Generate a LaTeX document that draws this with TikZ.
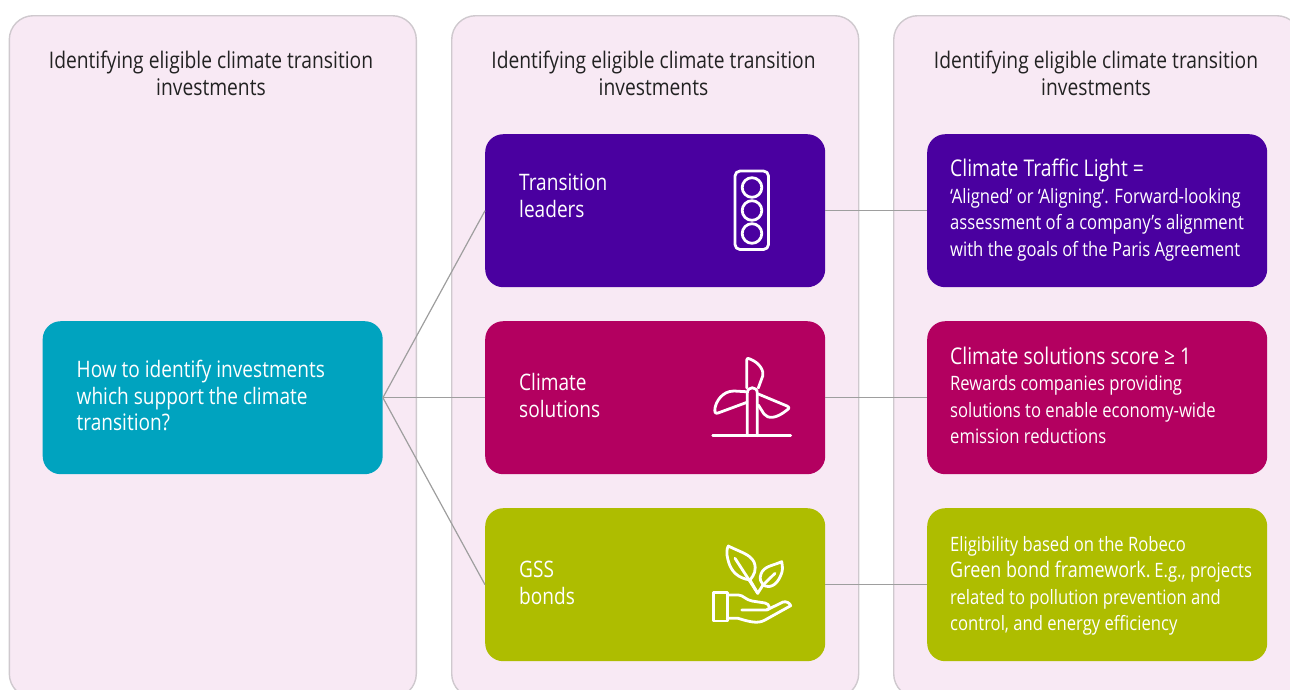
\documentclass[tikz,border=0pt]{standalone}
\usepackage{fontspec}
\setmainfont[FakeStretch=0.84]{Open Sans}
\definecolor{panelfill}{HTML}{F8E9F4}
\definecolor{panelline}{HTML}{CFC9CE}
\definecolor{cteal}{HTML}{00A3BF}
\definecolor{cpurple}{HTML}{4A00A0}
\definecolor{cmag}{HTML}{B30060}
\definecolor{colive}{HTML}{AEBD00}
\definecolor{ctext}{HTML}{222222}
\tikzset{
 x=1pt,y=-1pt,
 panel/.style={draw=panelline,line width=1.4pt,fill=panelfill,rounded corners=24pt,minimum width=407pt,minimum height=682pt,anchor=north west,inner sep=0pt},
 card/.style={rounded corners=18pt,minimum width=340pt,minimum height=153pt,anchor=north west,inner sep=0pt},
 head/.style={align=center,text=ctext,font=\fontsize{22.9}{27}\selectfont,anchor=north,inner sep=0pt},
 lab/.style={align=left,text=white,anchor=west,inner sep=0pt,font=\fontsize{22.7}{26.5}\selectfont},
 body/.style={align=left,text=white,anchor=west,inner sep=0pt,font=\fontsize{19.8}{26.5}\selectfont},
 conn/.style={draw=black!38,line width=1.2pt},
 ico/.style={draw=white,line width=2.8pt,line join=round,line cap=round}
}
\newcommand{\bigt}{\fontsize{23}{26.5}\selectfont}
\newcommand{\midt}{\fontsize{21.4}{26.5}\selectfont}
\begin{document}
\begin{tikzpicture}
\useasboundingbox[clip] (0,0) rectangle (1290,689);
\node[panel] (p1) at (8.6,15) {};
\node[panel] (p2) at (451,15) {};
\node[panel] (p3) at (893,15) {};
\node[head] (h1) at (211,51) {Identifying eligible climate transition\\investments};
\node[head] (h2) at (653.5,51) {Identifying eligible climate transition\\investments};
\node[head] (h3) at (1096,51) {Identifying eligible climate transition\\investments};

\node[card,fill=cteal] (q) at (42.5,321) {};
\node[card,fill=cpurple] (a1) at (485,134) {};
\node[card,fill=cmag] (a2) at (485,321) {};
\node[card,fill=colive] (a3) at (485,508) {};
\node[card,fill=cpurple] (b1) at (927,134) {};
\node[card,fill=cmag] (b2) at (927,321) {};
\node[card,fill=colive] (b3) at (927,508) {};

\draw[conn] (q.east) -- (a1.west);
\draw[conn] (q.east) -- (a2.west);
\draw[conn] (q.east) -- (a3.west);
\draw[conn] (a1.east) -- (b1.west);
\draw[conn] (a2.east) -- (b2.west);
\draw[conn] (a3.east) -- (b3.west);

\node[lab] (tq) at (76.5,395.5) {How to identify investments\\which support the climate\\transition?};
\node[lab] (t1) at (519,196) {Transition\\leaders};
\node[lab] (t2) at (519,395.5) {Climate\\solutions};
\node[lab] (t3) at (519,583) {GSS\\bonds};
\node[body] (d1) at (950,210) {{\bigt Climate Traffic Light =}\\‘Aligned’ or ‘Aligning’. Forward-looking\\assessment of a company’s alignment\\with the goals of the Paris Agreement};
\node[body] (d2) at (950,395.5) {{\bigt Climate solutions score ≥ 1}\\Rewards companies providing\\solutions to enable economy-wide\\emission reductions};
\node[body] (d3) at (950,586) {Eligibility based on the Robeco\\{\midt Green bond framework.} \kern-2pt E.g., projects\\related to pollution prevention and\\control, and energy efficiency};

% traffic light
\draw[ico,rounded corners=5pt] (735,171) rectangle (768.5,249.5);
\draw[ico] (752,187.5) circle (9.8pt) (752,210.5) circle (9.8pt) (752,233.5) circle (9.8pt);
% wind turbine
\draw[ico] (712.7,435.7) -- (790.7,435.7);
\draw[ico] (747.3,435.7) -- (747.3,393) .. controls (747.3,386) and (757.3,386) .. (757.3,393) -- (757.3,435.7);
\draw[ico] (746.7,388) -- (746.7,360) .. controls (746.7,358) and (748,358) .. (750,359) .. controls (760,363) and (764,371) .. (762.7,376) -- (758.3,388);
\draw[ico] (746,391.7) -- (734,391) .. controls (722,391) and (716,402) .. (715,408) .. controls (714.5,412) and (715,414) .. (718,413) -- (747,402.3);
\draw[ico] (758.3,394) -- (787,406) .. controls (790,407.5) and (789,409) .. (787,410) .. controls (776,419) and (768,419) .. (764,414) -- (758.3,405);
% hand and leaves
\draw[ico] (713.3,592.3) rectangle (727.3,621);
\draw[ico] (727.3,595) -- (738.3,595) .. controls (743,595) and (746,600) .. (752,601) -- (765,603) .. controls (770,604) and (771,610) .. (766,610) -- (741.7,610);
\draw[ico] (766.7,610) -- (783,602) .. controls (786,601) and (790,603) .. (790.7,605.7) -- (765,620) .. controls (758,624) and (750,622) .. (738,618.3) -- (727.3,618.3);
\draw[ico] (757.7,593.3) -- (750,580) .. controls (738,578) and (731,572) .. (728,560) .. controls (726,553) and (727,548) .. (728.3,546) .. controls (740,552) and (750,554) .. (754,562) .. controls (757,570) and (754,575) .. (750,580);
\draw[ico] (735,558.3) -- (757.7,593.3) -- (763,585) .. controls (772,590) and (779,582) .. (782,572) .. controls (783,568) and (782,564) .. (781.7,561.7) .. controls (772,566) and (764,566) .. (761,574) .. controls (759,579) and (761,582) .. (763,585);
\draw[ico] (775,573.3) -- (763,585);
\end{tikzpicture}
\end{document}
